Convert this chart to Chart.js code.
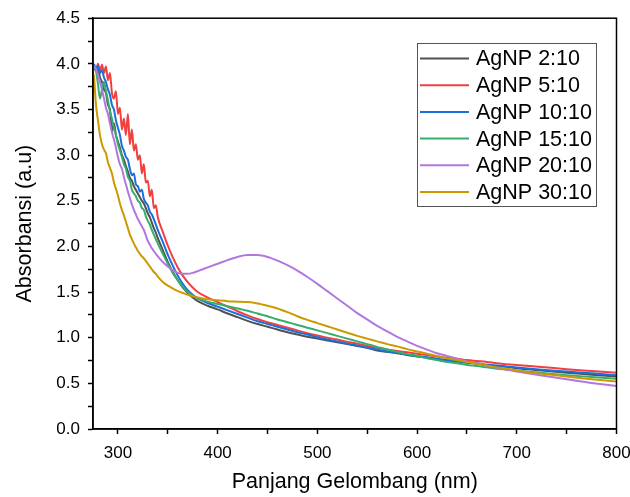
<!DOCTYPE html>
<html>
<head>
<meta charset="utf-8">
<script src="https://cdn.jsdelivr.net/npm/chart.js@4.4.1/dist/chart.umd.min.js"></script>
<style>
  html, body { margin: 0; padding: 0; background: #fff; }
</style>
</head>
<body>
<canvas id="grafica" width="630" height="497"></canvas>
<script>
// panjang gelombang (nm)
const panjangGelombang = [
  276, 278, 280, 282, 284, 286, 288, 290, 292, 294, 296, 298, 300, 302, 304, 306, 308, 310, 312, 314,
  316, 318, 320, 322, 324, 326, 328, 330, 332, 334, 336, 338, 340,
  345, 350, 355, 360, 365, 370, 375, 380,
  390, 400, 410, 420, 430, 440, 450, 460, 470, 480, 490, 500, 510, 520, 530, 540, 550, 560, 570, 580,
  590, 600, 610, 620, 630, 640, 650, 660, 670, 680, 690, 700,
  725, 750, 775, 800
];

const agnp2 = [
  3.98, 3.92, 3.95, 3.85, 3.80, 3.72, 3.68, 3.55, 3.50, 3.25, 3.35, 3.22, 3.15, 3.08, 3.00, 2.95, 2.88, 2.82, 2.75, 2.72,
  2.66, 2.62, 2.58, 2.54, 2.50, 2.47, 2.42, 2.36, 2.32, 2.26, 2.20, 2.15, 2.09,
  1.96, 1.83, 1.72, 1.63, 1.55, 1.49, 1.44, 1.40,
  1.35, 1.31, 1.265, 1.225, 1.185, 1.15, 1.12, 1.09, 1.06, 1.035, 1.01, 0.99, 0.97, 0.95, 0.93, 0.91, 0.89, 0.86, 0.845, 0.83,
  0.81, 0.795, 0.78, 0.765, 0.75, 0.74, 0.725, 0.715, 0.70, 0.69, 0.68, 0.665,
  0.64, 0.615, 0.595, 0.575
];
const agnp5 = [
  3.98, 3.93, 4.00, 3.92, 3.99, 3.90, 3.97, 3.82, 3.90, 3.68, 3.62, 3.70, 3.45, 3.52, 3.28, 3.40, 3.22, 3.45, 3.12, 3.28,
  3.05, 3.12, 2.95, 3.00, 2.80, 2.90, 2.70, 2.72, 2.55, 2.62, 2.42, 2.45, 2.32,
  2.16, 2.01, 1.88, 1.77, 1.68, 1.61, 1.55, 1.50,
  1.44, 1.39, 1.34, 1.29, 1.245, 1.205, 1.17, 1.14, 1.11, 1.08, 1.05, 1.025, 1.00, 0.98, 0.955, 0.935, 0.91, 0.89, 0.87, 0.855,
  0.84, 0.825, 0.81, 0.795, 0.78, 0.77, 0.755, 0.745, 0.735, 0.72, 0.71, 0.70,
  0.68, 0.655, 0.635, 0.615
];
const agnp10 = [
  4.00, 3.95, 3.98, 3.90, 3.93, 3.85, 3.80, 3.72, 3.66, 3.55, 3.50, 3.38, 3.30, 3.22, 3.10, 3.05, 2.98, 2.95, 2.85, 2.78,
  2.80, 2.68, 2.66, 2.60, 2.62, 2.52, 2.48, 2.45, 2.38, 2.35, 2.30, 2.24, 2.18,
  2.05, 1.91, 1.79, 1.68, 1.59, 1.52, 1.47, 1.43,
  1.38, 1.34, 1.30, 1.26, 1.22, 1.18, 1.15, 1.12, 1.09, 1.06, 1.035, 1.005, 0.98, 0.96, 0.935, 0.915, 0.89, 0.87, 0.85, 0.835,
  0.815, 0.80, 0.785, 0.77, 0.755, 0.745, 0.73, 0.72, 0.705, 0.695, 0.685, 0.675,
  0.65, 0.63, 0.61, 0.59
];
const agnp15 = [
  3.98, 3.92, 3.78, 3.62, 3.72, 3.80, 3.70, 3.60, 3.48, 3.40, 3.30, 3.22, 3.12, 3.05, 2.98, 2.90, 2.85, 2.76, 2.72, 2.62,
  2.58, 2.55, 2.50, 2.48, 2.42, 2.40, 2.33, 2.28, 2.24, 2.18, 2.13, 2.08, 2.03,
  1.92, 1.81, 1.71, 1.63, 1.56, 1.50, 1.46, 1.43,
  1.395, 1.37, 1.345, 1.32, 1.295, 1.265, 1.235, 1.20, 1.17, 1.14, 1.11, 1.08, 1.05, 1.02, 0.99, 0.96, 0.93, 0.90, 0.87, 0.845,
  0.82, 0.80, 0.775, 0.755, 0.735, 0.72, 0.70, 0.69, 0.675, 0.66, 0.65, 0.64,
  0.615, 0.59, 0.57, 0.55
];
const agnp20 = [
  3.98, 3.94, 3.88, 3.80, 3.72, 3.62, 3.52, 3.45, 3.35, 3.25, 3.17, 3.08, 2.98, 2.90, 2.85, 2.76, 2.68, 2.60, 2.53, 2.46,
  2.40, 2.35, 2.30, 2.26, 2.22, 2.18, 2.12, 2.06, 2.02, 1.98, 1.95, 1.92, 1.89,
  1.83, 1.78, 1.74, 1.71, 1.70, 1.70, 1.71, 1.73,
  1.77, 1.81, 1.85, 1.885, 1.905, 1.905, 1.885, 1.845, 1.795, 1.735, 1.665, 1.59, 1.51, 1.43, 1.35, 1.27, 1.20, 1.13, 1.07, 1.01,
  0.96, 0.91, 0.87, 0.83, 0.80, 0.77, 0.74, 0.72, 0.69, 0.67, 0.65, 0.63,
  0.585, 0.545, 0.505, 0.47
];
const agnp30 = [
  3.88, 3.55, 3.38, 3.22, 3.12, 3.06, 3.02, 2.92, 2.86, 2.80, 2.70, 2.63, 2.56, 2.47, 2.40, 2.34, 2.27, 2.20, 2.13, 2.08,
  2.03, 1.99, 1.95, 1.92, 1.89, 1.87, 1.84, 1.81, 1.78, 1.75, 1.72, 1.70, 1.67,
  1.61, 1.57, 1.54, 1.51, 1.49, 1.47, 1.455, 1.44,
  1.42, 1.41, 1.40, 1.395, 1.39, 1.375, 1.35, 1.32, 1.28, 1.235, 1.195, 1.16, 1.125, 1.09, 1.055, 1.02, 0.99, 0.96, 0.93, 0.905,
  0.875, 0.85, 0.825, 0.80, 0.775, 0.755, 0.735, 0.715, 0.695, 0.675, 0.66, 0.64,
  0.605, 0.575, 0.545, 0.52
];

const etiquetas = ["AgNP 2:10", "AgNP 5:10", "AgNP 10:10", "AgNP 15:10", "AgNP 20:10", "AgNP 30:10"];
const colores = ["#515151", "#F14040", "#1A6FDF", "#37AD6B", "#B177DE", "#CC9900"];

// ticks de los ejes (mayores con etiqueta, menores sin)
const xMayores = [300, 400, 500, 600, 700, 800];
const xTicks = [300, 350, 400, 450, 500, 550, 600, 650, 700, 750, 800];
const yMayores = [0, 0.5, 1, 1.5, 2, 2.5, 3, 3.5, 4, 4.5];
const yTicks = [0, 0.25, 0.5, 0.75, 1, 1.25, 1.5, 1.75, 2, 2.25, 2.5, 2.75, 3, 3.25, 3.5, 3.75, 4, 4.25, 4.5];

const fuente = "'Liberation Sans', Arial, sans-serif";
const series = [agnp2, agnp5, agnp10, agnp15, agnp20, agnp30];

const datasets = series.map((s, i) => ({
  label: etiquetas[i],
  data: s.map((v, j) => ({ x: panjangGelombang[j], y: v })),
  borderColor: colores[i],
  backgroundColor: colores[i],
  borderWidth: 2,
  pointRadius: 0,
  cubicInterpolationMode: 'monotone',
  order: series.length - 1 - i, // la ultima serie queda arriba
}));

// marco completo + leyenda dentro del area
const marcoYLeyenda = {
  id: 'marcoYLeyenda',
  afterDraw(chart) {
    const { ctx, chartArea: a } = chart;
    ctx.save();
    ctx.strokeStyle = '#000';
    ctx.lineWidth = 1.5;
    ctx.strokeRect(a.left, a.top, a.right - a.left, a.bottom - a.top);

    // leyenda
    const bx = 417, by = 43, bw = 179, bh = 163;
    ctx.fillStyle = '#fff';
    ctx.fillRect(bx, by, bw, bh);
    ctx.strokeStyle = '#555';
    ctx.lineWidth = 1;
    ctx.strokeRect(bx + 0.5, by + 0.5, bw, bh);
    ctx.font = '21.5px ' + fuente;
    ctx.textBaseline = 'middle';
    chart.data.datasets.forEach((d, i) => {
      const y = by + 15.5 + i * 26.7;
      ctx.strokeStyle = d.borderColor;
      ctx.lineWidth = 2;
      ctx.beginPath();
      ctx.moveTo(bx + 3, y);
      ctx.lineTo(bx + 52, y);
      ctx.stroke();
      ctx.fillStyle = '#000';
      ctx.fillText(d.label, bx + 59, y + 1);
    });
    ctx.restore();
  }
};

const $grafica = document.querySelector("#grafica");
const grafico = new Chart($grafica, {
  type: 'line',
  data: { datasets },
  options: {
    responsive: false,
    animation: false,
    layout: { padding: { left: 0, right: 0, top: 15, bottom: 0 } },
    plugins: { legend: { display: false }, tooltip: { enabled: false } },
    scales: {
      x: {
        type: 'linear',
        min: 275,
        max: 800,
        afterBuildTicks: (s) => { s.ticks = xTicks.map(v => ({ value: v })); },
        afterFit: (s) => { s.height = 68; s.paddingRight = 13.5; s.paddingLeft = 0; },
        grid: { drawOnChartArea: false, drawTicks: true, tickLength: 5, tickColor: '#000', tickWidth: 1.5 },
        border: { display: true, color: '#000', width: 1.5 },
        ticks: {
          color: '#000',
          font: { family: fuente, size: 17 },
          padding: 9,
          maxRotation: 0,
          autoSkip: false,
          callback: (v) => xMayores.includes(v) ? String(v) : ''
        },
        title: {
          display: true,
          text: 'Panjang Gelombang (nm)',
          color: '#000',
          font: { family: fuente, size: 21.5 },
          padding: { top: 0, bottom: 2 }
        }
      },
      y: {
        min: 0,
        max: 4.5,
        afterBuildTicks: (s) => { s.ticks = yTicks.map(v => ({ value: v })); },
        afterFit: (s) => { s.width = 93; },
        grid: { drawOnChartArea: false, drawTicks: true, tickLength: 5, tickColor: '#000', tickWidth: 1.5 },
        border: { display: true, color: '#000', width: 1.5 },
        ticks: {
          color: '#000',
          font: { family: fuente, size: 17 },
          padding: 8,
          autoSkip: false,
          callback: (v) => yMayores.includes(v) ? v.toFixed(1) : ''
        },
        title: {
          display: true,
          text: 'Absorbansi (a.u)',
          color: '#000',
          font: { family: fuente, size: 21.5 },
          padding: { top: 12, bottom: 0 }
        }
      }
    }
  },
  plugins: [marcoYLeyenda]
});
</script>
</body>
</html>
